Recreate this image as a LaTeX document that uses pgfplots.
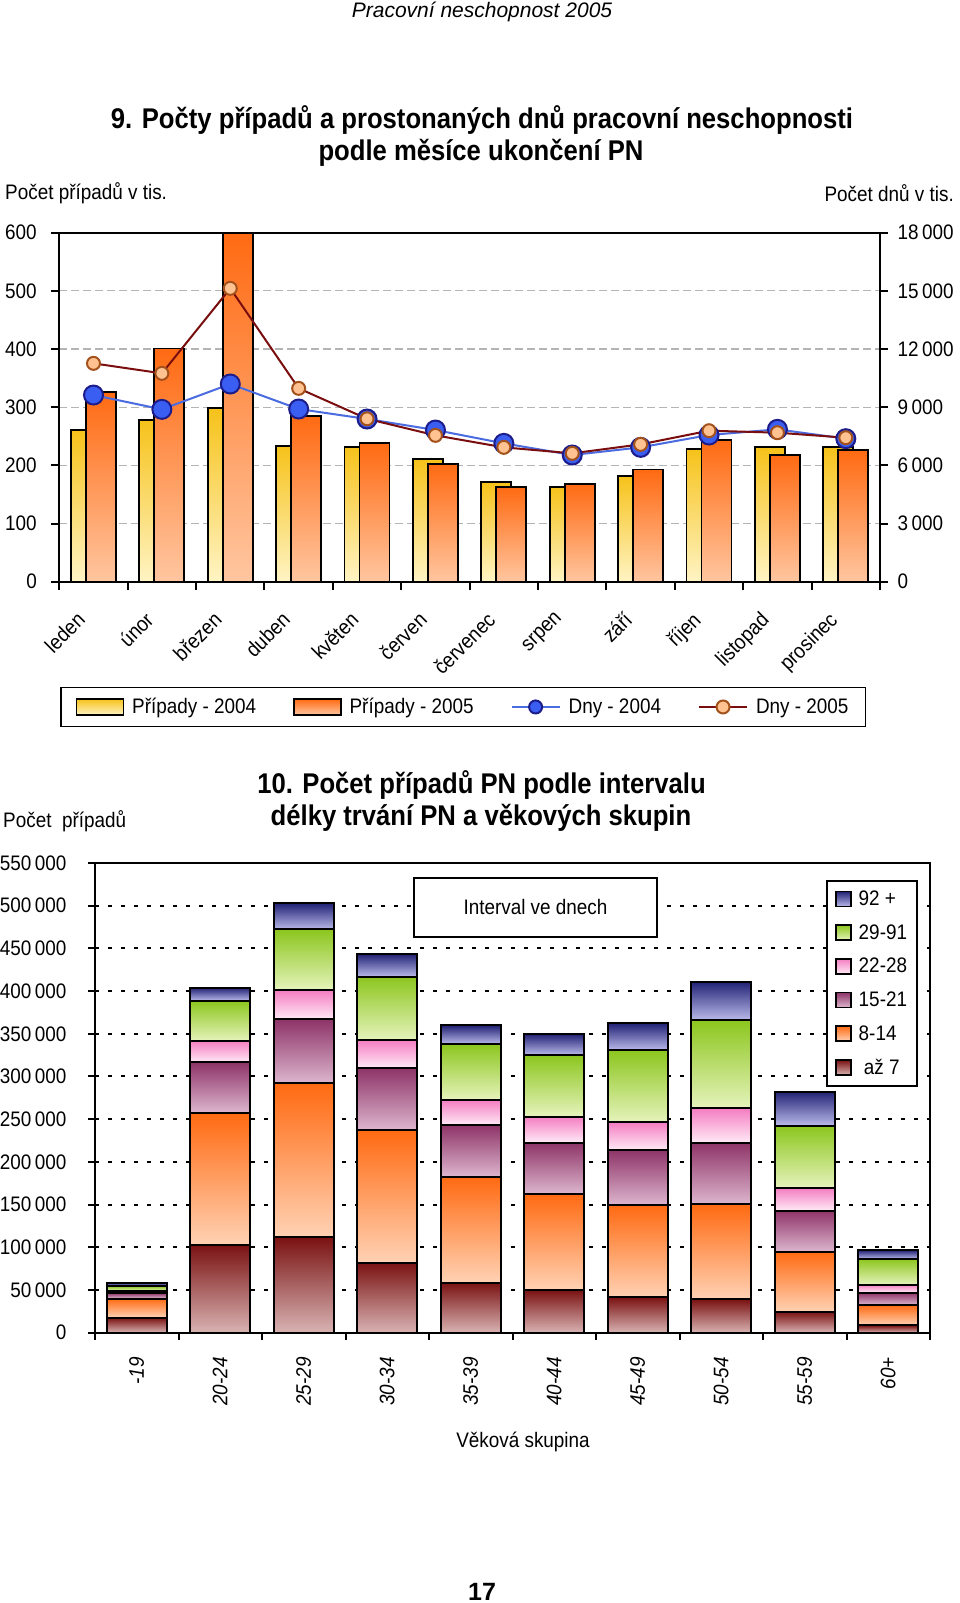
\documentclass[border=0pt]{standalone}
\usepackage{fontspec}
\setmainfont{Liberation Sans}
\newfontfamily\cf{Liberation Sans}[FakeStretch=0.9]
\usepackage{pgfplots}
\pgfplotsset{compat=1.18}
\usepackage{pgfplotstable}

\definecolor{yTop}{HTML}{F6C21A}
\definecolor{yBot}{HTML}{FFF4C4}
\definecolor{oTop}{HTML}{FF6A12}
\definecolor{oBot}{HTML}{FFC6A0}
\definecolor{blueM}{HTML}{3A5EF2}
\definecolor{blueE}{HTML}{1C1C8A}
\definecolor{blueL}{HTML}{4A6CE0}
\definecolor{brL}{HTML}{7A0E0E}
\definecolor{peachM}{HTML}{FFC290}
\definecolor{peachE}{HTML}{A4521C}
\definecolor{s1T}{HTML}{7A1212}
\definecolor{s1B}{HTML}{D9B3B3}
\definecolor{s2T}{HTML}{FF6A12}
\definecolor{s2B}{HTML}{FFD2B4}
\definecolor{s3T}{HTML}{8E3468}
\definecolor{s3B}{HTML}{DDB6CE}
\definecolor{s4T}{HTML}{F47EC2}
\definecolor{s4B}{HTML}{FFEAF6}
\definecolor{s5T}{HTML}{8CC61E}
\definecolor{s5B}{HTML}{E6F3BC}
\definecolor{s6T}{HTML}{222276}
\definecolor{s6B}{HTML}{BABAEA}
\definecolor{gridG}{HTML}{B4B4B4}

\newcommand\fs[1]{\fontsize{#1}{#1}\selectfont}

\pgfplotsset{
  barleg/.style={legend image code/.code={\draw[##1] (0pt,-8pt) rectangle (47pt,8pt); \path (53pt,0pt);}},
  lineleg/.style={legend image code/.code={\draw[mark repeat=2,mark phase=2,##1,mark size=6.5pt] plot coordinates {(0pt,0pt) (24pt,0pt) (48pt,0pt)}; \path (54pt,0pt);}},
  sqleg/.style={legend image code/.code={\draw[##1] (0pt,-7.5pt) rectangle (15pt,7.5pt); \path (20pt,0pt);}},
  seg/.style={draw=black, line width=2pt},
  catax/.style={at={(95pt,270.3pt)}, anchor=south west, scale only axis, width=835pt, height=469.7pt,
    xmin=-0.5, xmax=9.5, ymin=0, ymax=550000, hide axis, ybar stacked, bar width=60pt},
}

\pgfplotstableread{
x c04 c05 d04 d05
0 260.7 326.6 9627 11260
1 278 401 8888 10745
2 298 600 10195 15129
3 233 285 8905 9971
4 231.5 238 8390 8400
5 211.5 203 7822 7547
6 171 163 7135 6928
7 163 168.5 6533 6619
8 182 193 6928 7083
9 228.6 243.6 7564 7788
10 231 218 7857 7685
11 232 226 7375 7427
}\monthdata

\pgfplotstableread{
x a b c d e f
0 17500 22500 6500 2500 5500 4000
1 102700 154900 58900 25000 47200 15200
2 111600 180300 74900 34000 71400 30500
3 82000 155300 72200 33200 74200 26500
4 58500 124100 60500 29300 65600 21900
5 50000 112400 60100 30500 72200 24600
6 41400 108100 64400 32400 84700 31200
7 39000 111300 72200 40200 103400 44900
8 24600 70300 48000 26200 73400 39800
9 8500 23900 14600 9300 30000 10300
}\agedata

\begin{document}
\begin{tikzpicture}
\useasboundingbox (0pt,0pt) rectangle (960pt,1603pt);
\fill[white] (0pt,0pt) rectangle (960pt,1603pt);

% ---------- chart 9 : bars ----------
\begin{axis}[
  at={(59.3pt,1021.3pt)}, anchor=south west,
  scale only axis, width=820.7pt, height=349pt,
  xmin=-0.5, xmax=11.5, ymin=0, ymax=600,
  ytick={0,100,...,600},
  xtick={-0.5,0.5,...,11.5},
  xticklabels={,,,,,,,,,,,,,},
  extra x ticks={0,1,...,11},
  extra x tick labels={leden,únor,březen,duben,květen,červen,červenec,srpen,září,říjen,listopad,prosinec},
  extra x tick style={major tick length=0pt, grid=none, xticklabel style={xshift=-18pt, yshift=-24pt, rotate=45, anchor=north east}},
  yticklabel style={xshift=-11pt},
  tick pos=left, tick align=outside,
  major tick length=8pt,
  axis line style={line width=2pt},
  tick style={line width=2pt, black},
  ymajorgrids, major grid style={gridG, line width=1.2pt, dash pattern=on 8pt off 4pt},
  tick label style={font=\cf\fs{21}},
  /pgf/number format/assume math mode=true,
  /pgf/number format/fixed,
]
\pgfplotsinvokeforeach{0,...,11}{
\addplot[ybar, bar width=30pt, bar shift=-7.5pt, draw=black, line width=1.8pt, top color=yTop, bottom color=yBot, restrict x to domain=#1:#1] table[x=x,y=c04]{\monthdata};
\addplot[ybar, bar width=30pt, bar shift=7.5pt, draw=black, line width=1.8pt, top color=oTop, bottom color=oBot, restrict x to domain=#1:#1] table[x=x,y=c05]{\monthdata};
}
\end{axis}

% ---------- chart 9 : lines (right axis) ----------
\begin{axis}[
  at={(59.3pt,1021.3pt)}, anchor=south west,
  scale only axis, width=820.7pt, height=349pt,
  xmin=-0.5, xmax=11.5, ymin=0, ymax=18000,
  axis x line=none, axis y line*=right,
  ytick={0,3000,...,18000},
  yticklabel style={xshift=6pt},
  tick align=outside, major tick length=8pt,
  axis line style={line width=2pt},
  tick style={line width=2pt, black},
  tick label style={font=\cf\fs{21}},
  /pgf/number format/assume math mode=true,
  /pgf/number format/fixed,
  /pgf/number format/1000 sep={\,},
  scaled y ticks=false,
  legend columns=4,
  legend style={at={(0.492,-0.359)}, anchor=center, draw=black, line width=1.8pt, font=\cf\fs{21},
    inner xsep=15pt, inner ysep=9pt,
    /tikz/every even column/.append style={column sep=35pt}},
  legend cell align=left,
]
\addlegendimage{barleg, draw=black, line width=1.5pt, top color=yTop, bottom color=yBot}
\addlegendentry{Případy - 2004}
\addlegendimage{barleg, draw=black, line width=1.5pt, top color=oTop, bottom color=oBot}
\addlegendentry{Případy - 2005}
\addplot[blueL, line width=2pt, mark=*, mark size=9.5pt, mark options={fill=blueM, draw=blueE, line width=2pt}, lineleg] table[x=x,y=d04]{\monthdata};
\addlegendentry{Dny - 2004}
\addplot[brL, line width=2pt, mark=*, mark size=6.5pt, mark options={fill=peachM, draw=peachE, line width=2pt}, lineleg] table[x=x,y=d05]{\monthdata};
\addlegendentry{Dny - 2005}
\end{axis}

% ---------- chart 10 : frame, grid, legend ----------
\begin{axis}[
  at={(95pt,270.3pt)}, anchor=south west,
  scale only axis, width=835pt, height=469.7pt,
  xmin=-0.5, xmax=9.5, ymin=0, ymax=550000,
  ytick={0,50000,...,550000},
  xtick={-0.5,0.5,...,9.5},
  xticklabels={,,,,,,,,,,,},
  extra x ticks={0,1,...,9},
  extra x tick labels={-19,20-24,25-29,30-34,35-39,40-44,45-49,50-54,55-59,60+},
  extra x tick style={major tick length=0pt, grid=none, xticklabel style={yshift=-21pt, rotate=90, anchor=east, font=\cf\itshape\fs{21}}},
  yticklabel style={xshift=-18pt},
  tick pos=left, tick align=outside, major tick length=7pt,
  axis line style={line width=2pt},
  tick style={line width=2pt, black},
  scaled y ticks=false,
  ymajorgrids, major grid style={black, line width=2pt, dash pattern=on 4pt off 9pt},
  tick label style={font=\cf\fs{21}},
  /pgf/number format/assume math mode=true,
  /pgf/number format/fixed,
  /pgf/number format/1000 sep={\,},
  legend style={at={(0.9856,0.9638)}, anchor=north east, draw=black, line width=1.8pt, font=\cf\fs{21},
    row sep=13.5pt, inner xsep=8pt, inner ysep=8pt},
  legend cell align=left,
  reverse legend,
]
\addlegendimage{sqleg, draw=black, line width=1.6pt, top color=s1T, bottom color=s1B}
\addlegendentry{\ až 7}
\addlegendimage{sqleg, draw=black, line width=1.6pt, top color=s2T, bottom color=s2B}
\addlegendentry{8-14}
\addlegendimage{sqleg, draw=black, line width=1.6pt, top color=s3T, bottom color=s3B}
\addlegendentry{15-21}
\addlegendimage{sqleg, draw=black, line width=1.6pt, top color=s4T, bottom color=s4B}
\addlegendentry{22-28}
\addlegendimage{sqleg, draw=black, line width=1.6pt, top color=s5T, bottom color=s5B}
\addlegendentry{29-91}
\addlegendimage{sqleg, draw=black, line width=1.6pt, top color=s6T, bottom color=s6B}
\addlegendentry{92 +}
\end{axis}

% ---------- chart 10 : stacked bars, one axis per age group ----------
\pgfplotsinvokeforeach{0,...,9}{
\begin{axis}[catax]
\addplot[seg, top color=s1T, bottom color=s1B, restrict x to domain=#1:#1] table[x=x,y=a]{\agedata};
\addplot[seg, top color=s2T, bottom color=s2B, restrict x to domain=#1:#1] table[x=x,y=b]{\agedata};
\addplot[seg, top color=s3T, bottom color=s3B, restrict x to domain=#1:#1] table[x=x,y=c]{\agedata};
\addplot[seg, top color=s4T, bottom color=s4B, restrict x to domain=#1:#1] table[x=x,y=d]{\agedata};
\addplot[seg, top color=s5T, bottom color=s5B, restrict x to domain=#1:#1] table[x=x,y=e]{\agedata};
\addplot[seg, top color=s6T, bottom color=s6B, restrict x to domain=#1:#1] table[x=x,y=f]{\agedata};
\end{axis}
}

\node[draw, line width=1.8pt, fill=white, minimum width=243pt, minimum height=59pt, font=\cf\fs{21}] at (535.5pt,695.8pt) {Interval ve dnech};

% ---------- texts ----------
\node[font=\itshape\fs{21}] at (482pt,1591pt) {Pracovní neschopnost 2005};
\node[font=\cf\bfseries\fs{28.5}] at (482pt,1483pt) {9. Počty případů a prostonaných dnů pracovní neschopnosti};
\node[font=\cf\bfseries\fs{28.5}] at (481pt,1450pt) {podle měsíce ukončení PN};
\node[font=\cf\fs{21}, anchor=west, inner sep=0pt] at (5pt,1410pt) {Počet případů v tis.};
\node[font=\cf\fs{21}, anchor=east, inner sep=0pt] at (954pt,1410pt) {Počet dnů v tis.};
\node[font=\cf\bfseries\fs{28.5}] at (481.5pt,818pt) {10. Počet případů PN podle intervalu};
\node[font=\cf\bfseries\fs{28.5}] at (481pt,785pt) {délky trvání PN a věkových skupin};
\node[font=\cf\fs{21}, anchor=west, inner sep=0pt] at (3pt,782pt) {Počet\ \ případů};
\node[font=\cf\fs{21}] at (523pt,161pt) {Věková skupina};
\node[font=\bfseries\fs{25}] at (482pt,11pt) {17};
\end{tikzpicture}
\end{document}
